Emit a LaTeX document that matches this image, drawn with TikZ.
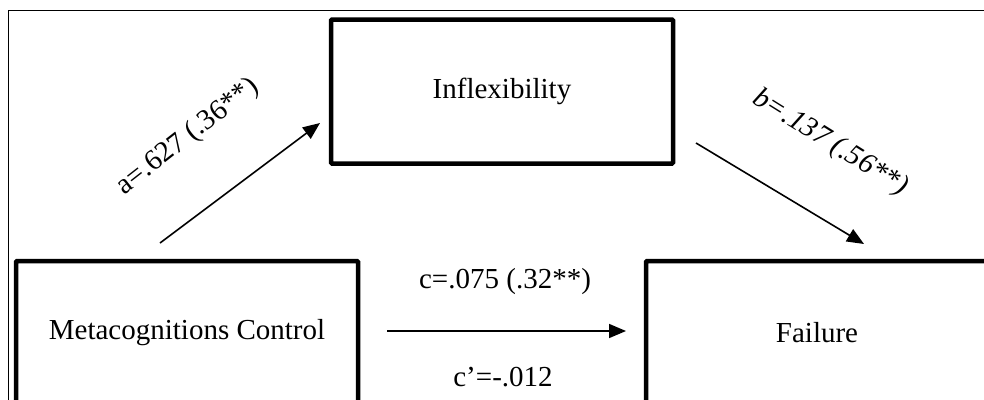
\documentclass[tikz,border=0pt]{standalone}
\usepackage{fontspec}
\setmainfont{Liberation Serif}
\usetikzlibrary{arrows.meta}
\begin{document}
\begin{tikzpicture}[x=1pt,y=-1pt,
  varbox/.style={draw=black,line width=4.5pt,rounded corners=1pt,minimum width=342pt,minimum height=144pt,inner sep=0pt,font=\fontsize{29}{34}\selectfont},
  pathline/.style={line width=1.6pt,-{Triangle[length=17pt,width=14pt]}},
  lbl/.style={font=\fontsize{29}{34}\selectfont,inner sep=0pt}]
\useasboundingbox (0,0) rectangle (984,399);
\clip (0,0) rectangle (984,399);
\fill[white] (0,0) rectangle (984,399);
\draw[line width=1pt] (8,430) -- (8,10) -- (1000,10);
\node[varbox] (mc) at (187,333) {Metacognitions Control};
\node[varbox] (inf) at (502,91.5) {Inflexibility};
\node[varbox] (fail) at (817,333) {Failure};
\coordinate (a0) at (160,243);
\coordinate (a1) at (320,123);
\coordinate (b0) at (696,143);
\coordinate (b1) at (864,244);
\coordinate (c0) at (387,331);
\coordinate (c1) at (626,331);
\draw[pathline] (a0) -- (a1);
\draw[pathline] (b0) -- (b1);
\draw[pathline] (c0) -- (c1);
\node[lbl,rotate=38] (la) at (188,137) {a=.627 (.36**)};
\node[lbl,rotate=-32] (lb) at (830,143) {\itshape b=.137 (.56**)};
\node[lbl] (lc) at (505,282) {c=.075 (.32**)};
\node[lbl] (lc2) at (503,377) {c’=-.012};
\end{tikzpicture}
\end{document}
